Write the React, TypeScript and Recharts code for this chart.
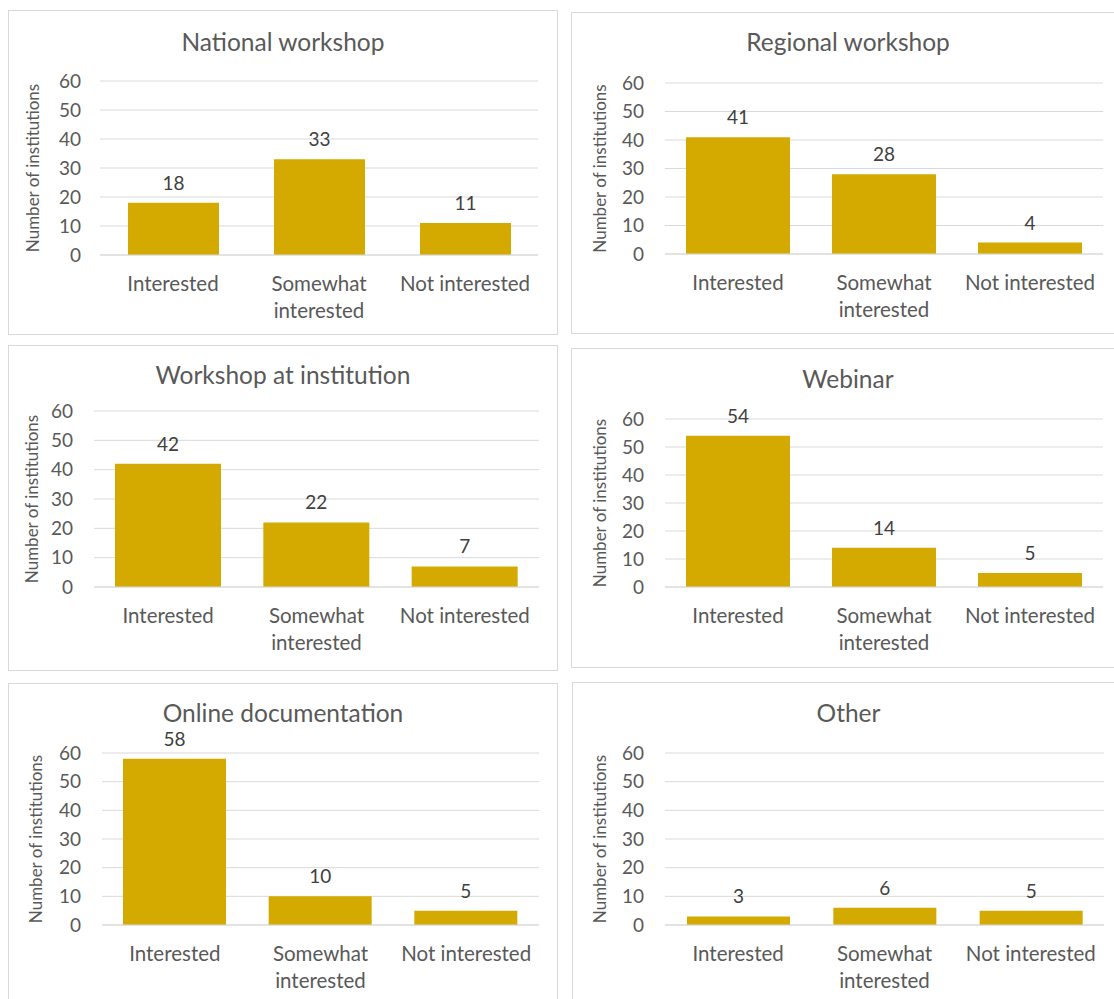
import { Bar, BarChart, CartesianGrid, LabelList, Text, XAxis, YAxis } from "recharts";

const categories = ["Interested", "Somewhat interested", "Not interested"];
const yTicks = [0, 10, 20, 30, 40, 50, 60];
const yAxisTitle = "Number of institutions";

const titles = [
  "National workshop",
  "Regional workshop",
  "Workshop at institution",
  "Webinar",
  "Online documentation",
  "Other",
];

const nationalWorkshop = [18, 33, 11];
const regionalWorkshop = [41, 28, 4];
const workshopAtInstitution = [42, 22, 7];
const webinar = [54, 14, 5];
const onlineDocumentation = [58, 10, 5];
const other = [3, 6, 5];

const seriesValues = [
  nationalWorkshop,
  regionalWorkshop,
  workshopAtInstitution,
  webinar,
  onlineDocumentation,
  other,
];

// page coordinates of each framed panel and its plot area
const frames = [
  { left: 8, top: 10, width: 550, height: 325, plotLeft: 100, plotRight: 538, plotTop: 81, plotBottom: 255, barSize: 91, titleY: 42, yLabelX: 33, tickGap: 19 },
  { left: 571, top: 12, width: 554, height: 322, plotLeft: 665, plotRight: 1103, plotTop: 83, plotBottom: 254, barSize: 104, titleY: 42, yLabelX: 600, tickGap: 21 },
  { left: 8, top: 345, width: 550, height: 326, plotLeft: 94, plotRight: 539, plotTop: 411, plotBottom: 587, barSize: 106, titleY: 375, yLabelX: 32, tickGap: 21 },
  { left: 571, top: 348, width: 554, height: 320, plotLeft: 665, plotRight: 1103, plotTop: 419, plotBottom: 587, barSize: 104, titleY: 379, yLabelX: 600, tickGap: 21 },
  { left: 8, top: 683, width: 550, height: 330, plotLeft: 102, plotRight: 539, plotTop: 753, plotBottom: 925, barSize: 103, titleY: 713, yLabelX: 36, tickGap: 21 },
  { left: 572, top: 682, width: 553, height: 330, plotLeft: 665, plotRight: 1104, plotTop: 753, plotBottom: 925, barSize: 103, titleY: 713, yLabelX: 600, tickGap: 21 },
];

const FONT = "Lato, 'Open Sans', sans-serif";
const GOLD = "#D4AA00";
const GRID = "#D9D9D9";
const TEXT = "#595959";

function CategoryTick(props: any) {
  const { x, y, payload } = props;
  return (
    <Text
      x={x}
      y={y}
      width={138}
      textAnchor="middle"
      verticalAnchor="start"
      lineHeight={27}
      fill={TEXT}
      style={{ fontSize: 20.5, fontFamily: FONT }}
    >
      {payload.value}
    </Text>
  );
}

function Panel({ index }: { index: number }) {
  const f = frames[index];
  const data = categories.map((name, i) => ({ name, value: seriesValues[index][i] }));
  const plotLeft = f.plotLeft - f.left;
  const plotRight = f.plotRight - f.left;
  const plotTop = f.plotTop - f.top;
  const plotBottom = f.plotBottom - f.top;

  return (
    <div
      style={{
        position: "absolute",
        left: f.left,
        top: f.top,
        width: f.width,
        height: f.height,
        boxSizing: "border-box",
        border: `1px solid ${GRID}`,
        background: "#fff",
      }}
    >
      <div
        style={{
          position: "absolute",
          left: -1,
          top: f.titleY - f.top - 17,
          width: f.width,
          lineHeight: "32px",
          textAlign: "center",
          fontFamily: FONT,
          fontSize: 24.5,
          color: TEXT,
          whiteSpace: "nowrap",
        }}
      >
        {titles[index]}
      </div>
      <div style={{ position: "absolute", left: -1, top: -1 }}>
        <BarChart
          data={data}
          width={f.width}
          height={f.height}
          margin={{ top: plotTop, right: f.width - plotRight, bottom: 0, left: 0 }}
        >
          <CartesianGrid horizontal vertical={false} stroke={GRID} strokeWidth={1} />
          <XAxis
            dataKey="name"
            height={f.height - plotBottom}
            interval={0}
            axisLine={{ stroke: GRID }}
            tickLine={false}
            tickSize={0}
            tickMargin={21}
            tick={(p: any) => <CategoryTick {...p} />}
          />
          <YAxis
            width={plotLeft}
            domain={[0, 60]}
            ticks={yTicks}
            interval={0}
            axisLine={false}
            tickLine={false}
            tickSize={0}
            tickMargin={f.tickGap}
            tick={{ fill: TEXT, fontSize: 19, fontFamily: FONT }}
            label={{
              value: yAxisTitle,
              angle: -90,
              position: "insideLeft",
              offset: f.yLabelX - f.left,
              fill: TEXT,
              fontSize: 17,
              fontFamily: FONT,
              style: { textAnchor: "middle" },
            }}
          />
          <Bar dataKey="value" fill={GOLD} barSize={f.barSize} isAnimationActive={false}>
            <LabelList
              dataKey="value"
              position="top"
              offset={13}
              fill="#404040"
              fontSize={19}
              fontFamily={FONT}
            />
          </Bar>
        </BarChart>
      </div>
    </div>
  );
}

export default function App() {
  return (
    <div
      style={{
        position: "absolute",
        left: 0,
        top: 0,
        width: 1114,
        height: 999,
        overflow: "hidden",
        background: "#fff",
      }}
    >
      {titles.map((_, i) => (
        <Panel key={i} index={i} />
      ))}
    </div>
  );
}
